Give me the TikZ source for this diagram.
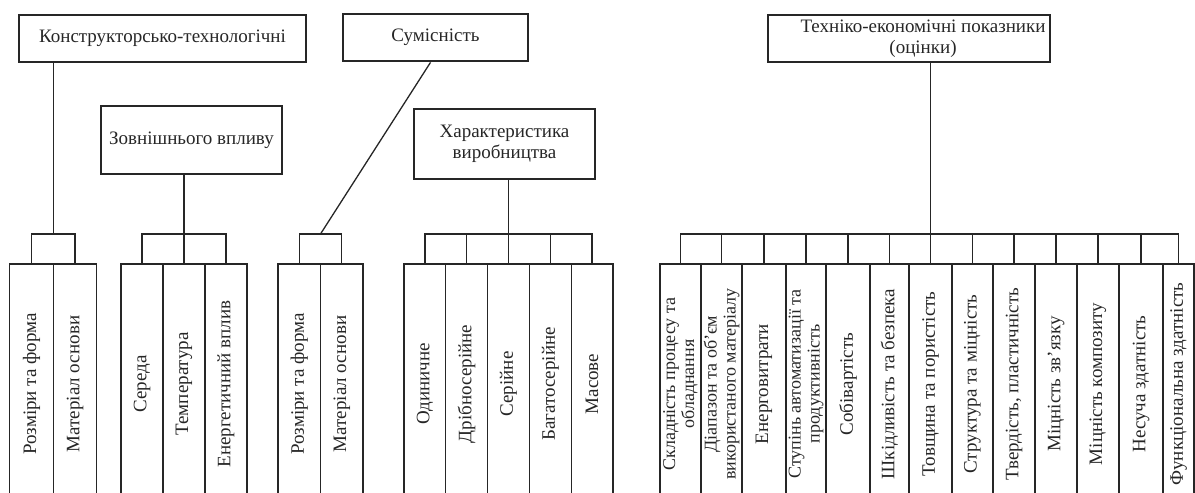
\documentclass[tikz,border=0pt]{standalone}
\usepackage{fontspec}
\setmainfont{Liberation Serif}
\begin{document}
\begin{tikzpicture}[x=1pt,y=-1pt]\tikzstyle{every node} = [align=center, text=black!85, font=\fontsize{19}{21}\selectfont]
    \tikzset{head/.style={draw=black!85, line width=2.8pt, inner sep=0pt},
      col/.style={draw=black!85, line width=1.3pt, rotate=90, minimum width=240pt, minimum height=#1, inner sep=0pt},
      twoline/.style={font=\fontsize{18}{19}\selectfont},
      link/.style={draw=black!85, line width=1.3pt}}
    \useasboundingbox (0,0) rectangle (1195,493);
    \clip (0,0) rectangle (1195,493);

    \node[head, minimum width=287pt, minimum height=47pt] (kt)   at (162.5,38.5) {Конструкторсько-технологічні};
    \node[head, minimum width=181pt, minimum height=68pt] (zv)   at (191.5,140)  {Зовнішнього впливу};
    \node[head, minimum width=185pt, minimum height=47pt] (sum)  at (435.5,37.5) {Сумісність};
    \node[head, minimum width=181pt, minimum height=70pt] (vyr)  at (504.5,144)  {Характеристика\\виробництва};
    \node[head, minimum width=282pt, minimum height=47pt] (tech) at (909,38.5)   {};
    \node (techtxt) at (923,39) {Техніко-економічні показники\\(оцінки)};

    \node[col=43.5] (a1) at (31.5,384) {Розміри та форма};
    \node[col=43.5] (a2) at (75,384)   {Матеріал основи};

    \node[col=42] (b1) at (142,384) {Середа};
    \node[col=42] (b2) at (184,384) {Температура};
    \node[col=42] (b3) at (226,384) {Енергетичний вплив};

    \node[col=42.5] (c1) at (299.25,384) {Розміри та форма};
    \node[col=42.5] (c2) at (341.75,384) {Матеріал основи};

    \node[col=41.8] (d1) at (424.9,384) {Одиничне};
    \node[col=41.8] (d2) at (466.7,384) {Дрібносерійне};
    \node[col=41.8] (d3) at (508.5,384) {Серійне};
    \node[col=41.8] (d4) at (550.3,384) {Багатосерійне};
    \node[col=41.8] (d5) at (592.1,384) {Масове};

    \node[col=41, twoline] (t1)  at (680.5,384)  {Складність процесу та\\обладнання};
    \node[col=41, twoline] (t2)  at (721.5,384)  {Діапазон та об'єм\\використаного матеріалу};
    \node[col=44]          (t3)  at (764,384)    {Енерговитрати};
    \node[col=40, twoline] (t4)  at (806,384)    {Ступінь автоматизації та\\продуктивність};
    \node[col=44]          (t5)  at (848,384)    {Собівартість};
    \node[col=39]          (t6)  at (889.5,384)  {Шкідливість та безпека};
    \node[col=43]          (t7)  at (930.5,384)  {Товщина та пористість};
    \node[col=41]          (t8)  at (972.5,384)  {Структура та міцність};
    \node[col=42]          (t9)  at (1014,384)   {Твердість, пластичність};
    \node[col=42]          (t10) at (1056,384)   {Міцність зв'язку};
    \node[col=42]          (t11) at (1098,384)   {Міцність композиту};
    \node[col=44]          (t12) at (1141,384)   {Несуча здатність};
    \node[col=31]          (t13) at (1178.5,384) {Функціональна здатність};

    \coordinate (j1) at (53.25,234);
    \coordinate (j2) at (184,234);
    \coordinate (j3) at (320.5,234);
    \coordinate (j4) at (508.5,234);
    \coordinate (j5) at (930.5,234);

    \draw[link] (kt.south -| j1) -- (j1);
    \draw[link] (a1.east) |- (j1) -| (a2.east);

    \draw[link] (zv.south -| j2) -- (b2.east);
    \draw[link] (b1.east) |- (j2) -| (b3.east);

    \draw[link] ([xshift=-5pt]sum.south) -- (j3);
    \draw[link] (c1.east) |- (j3) -| (c2.east);

    \draw[link] (vyr.south -| j4) -- (d3.east);
    \draw[link] (d1.east) |- (j4) -| (d5.east);
    \draw[link] (d2.east) -- (d2.east |- j4) (d4.east) -- (d4.east |- j4);

    \draw[link] (tech.south -| j5) -- (t7.east);
    \draw[link] (t1.east) |- (j5) -| (t13.east);
    \draw[link] (t2.east) -- (t2.east |- j5) (t3.east) -- (t3.east |- j5)
      (t4.east) -- (t4.east |- j5) (t5.east) -- (t5.east |- j5)
      (t6.east) -- (t6.east |- j5) (t8.east) -- (t8.east |- j5)
      (t9.east) -- (t9.east |- j5) (t10.east) -- (t10.east |- j5)
      (t11.east) -- (t11.east |- j5) (t12.east) -- (t12.east |- j5);
  \end{tikzpicture}
\end{document}
